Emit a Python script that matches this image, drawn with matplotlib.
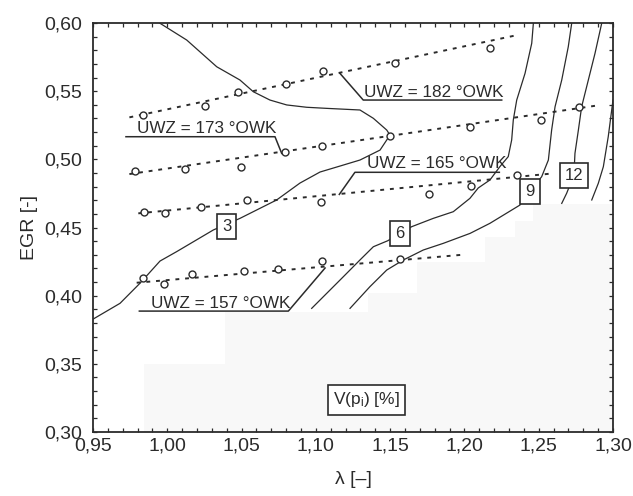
import numpy as np
import matplotlib
matplotlib.use("Agg")
import matplotlib.pyplot as plt
from matplotlib.ticker import MultipleLocator, FuncFormatter

plt.rcParams['font.family'] = ['Liberation Sans', 'DejaVu Sans']
plt.rcParams['mathtext.default'] = 'regular'

# measured points (lambda, EGR) per ignition timing
uwz157_lam = [0.9835, 0.9978, 1.0164, 1.0516, 1.0743, 1.1040, 1.1566]
uwz157_egr = [0.4132, 0.4086, 0.4157, 0.4183, 0.4193, 0.4254, 0.4269]
uwz165_lam = [0.9843, 0.9985, 1.0225, 1.0539, 1.1032, 1.1762, 1.2044, 1.2356]
uwz165_egr = [0.4611, 0.4606, 0.4653, 0.4699, 0.4685, 0.4746, 0.4807, 0.4885]
uwz173_lam = [0.9783, 1.0119, 1.0496, 1.0792, 1.1039, 1.1499, 1.2038, 1.2513, 1.2773]
uwz173_egr = [0.4914, 0.4929, 0.4946, 0.5052, 0.5098, 0.5173, 0.5237, 0.5291, 0.5382]
uwz182_lam = [0.9835, 1.0254, 1.0478, 1.0797, 1.1050, 1.1533, 1.2174]
uwz182_egr = [0.5323, 0.5391, 0.5494, 0.5550, 0.5650, 0.5704, 0.5814]

# fitted lines (start / end)
fit157_lam = [0.9794, 1.1985]
fit157_egr = [0.4095, 0.4300]
fit165_lam = [0.9805, 1.2598]
fit165_egr = [0.4604, 0.4897]
fit173_lam = [0.9745, 1.2912]
fit173_egr = [0.4892, 0.5398]
fit182_lam = [0.9745, 1.2358]
fit182_egr = [0.5308, 0.5912]

# iso-lines of V(pi) [%]
iso3_lam = [0.9502, 0.9682, 0.9816, 0.9951, 1.0063, 1.0310, 1.0489, 1.0736, 1.0893,
            1.1028, 1.1163, 1.1297, 1.1432, 1.1499, 1.1477, 1.1387, 1.1297, 1.1073,
            1.0938, 1.0804, 1.0691, 1.0579, 1.0489, 1.0333, 1.0131, 0.9951]
iso3_egr = [0.3829, 0.3944, 0.4091, 0.4254, 0.4323, 0.4482, 0.4567, 0.4702, 0.4826,
            0.4907, 0.4951, 0.4995, 0.5068, 0.5178, 0.5215, 0.5301, 0.5362, 0.5374,
            0.5382, 0.5399, 0.5435, 0.5496, 0.5582, 0.5679, 0.5875, 0.5998]
iso6_lam = [1.2464, 1.2453, 1.2408, 1.2352, 1.2329, 1.2318, 1.2295, 1.2239, 1.2172,
            1.2093, 1.2037, 1.1925, 1.1790, 1.1645, 1.1566, 1.1484, 1.1387, 1.1297,
            1.1185, 1.1073, 1.0972]
iso6_egr = [0.5998, 0.5851, 0.5631, 0.5435, 0.5289, 0.5142, 0.5020, 0.4947, 0.4849,
            0.4790, 0.4714, 0.4616, 0.4567, 0.4506, 0.4457, 0.4403, 0.4359, 0.4262,
            0.4139, 0.4017, 0.3907]
iso9_lam = [1.2722, 1.2699, 1.2655, 1.2610, 1.2587, 1.2565, 1.2520, 1.2441, 1.2374,
            1.2172, 1.2038, 1.1858, 1.1723, 1.1589, 1.1477, 1.1364, 1.1230]
iso9_egr = [0.5998, 0.5826, 0.5582, 0.5386, 0.5215, 0.4995, 0.4873, 0.4763, 0.4665,
            0.4531, 0.4457, 0.4384, 0.4335, 0.4262, 0.4188, 0.4066, 0.3907]
iso12_lam = [1.2924, 1.2879, 1.2834, 1.2789, 1.2767, 1.2744, 1.2737, 1.2688, 1.2655]
iso12_egr = [0.5998, 0.5778, 0.5582, 0.5386, 0.5215, 0.5044, 0.4885, 0.4751, 0.4677]
iso15_lam = [1.3000, 1.2968, 1.2935, 1.2901, 1.2857]
iso15_egr = [0.5435, 0.5166, 0.4946, 0.4824, 0.4702]

# light grey area without data (step outline)
area_lam = [0.9845, 0.9845, 1.039, 1.039, 1.135, 1.135, 1.168, 1.168, 1.214, 1.214,
            1.234, 1.234, 1.246, 1.246, 1.30, 1.30]
area_egr = [0.30, 0.350, 0.350, 0.388, 0.388, 0.402, 0.402, 0.425, 0.425, 0.443,
            0.443, 0.455, 0.455, 0.467, 0.467, 0.30]

ink = '#2b2b2b'

fig = plt.figure(figsize=(6.33, 4.96), dpi=100)
ax = fig.add_axes([0.1469, 0.129, 0.8215, 0.8246])
ax.set_xlim(0.95, 1.30)
ax.set_ylim(0.30, 0.60)

ax.fill(area_lam, area_egr, color='#f8f8f8', lw=0, zorder=0)

for lx, ly in [(iso3_lam, iso3_egr), (iso6_lam, iso6_egr), (iso9_lam, iso9_egr),
               (iso12_lam, iso12_egr), (iso15_lam, iso15_egr)]:
    ax.plot(lx, ly, color=ink, lw=0.9, zorder=2)

for fx, fy in [(fit157_lam, fit157_egr), (fit165_lam, fit165_egr),
               (fit173_lam, fit173_egr), (fit182_lam, fit182_egr)]:
    ax.plot(fx, fy, color=ink, lw=1.4, ls=(0, (2.0, 3.0)), zorder=3)

for px, py in [(uwz157_lam, uwz157_egr), (uwz165_lam, uwz165_egr),
               (uwz173_lam, uwz173_egr), (uwz182_lam, uwz182_egr)]:
    ax.plot(px, py, 'o', ms=5, mfc='white', mec=ink, mew=1.0, zorder=4)

# labels with underline + leader
labels = [
    ('UWZ = 182 °OWK', 1.1324, 0.5459, [1.1162, 1.1319, 1.2251], [0.5631, 0.5435, 0.5435]),
    ('UWZ = 173 °OWK', 0.9794, 0.5191, [0.9722, 1.0725, 1.077], [0.5166, 0.5166, 0.5044]),
    ('UWZ = 165 °OWK', 1.1342, 0.4934, [1.1158, 1.1263, 1.2235], [0.4743, 0.4905, 0.4905]),
    ('UWZ = 157 °OWK', 0.9888, 0.3907, [0.9812, 1.0815, 1.1062], [0.3887, 0.3887, 0.4203]),
]
for txt, tx, ty, lx, ly in labels:
    ax.text(tx, ty, txt, fontsize=12.3, color=ink, va='baseline', ha='left', zorder=5)
    ax.plot(lx, ly, color=ink, lw=1.1, zorder=5)

box = dict(boxstyle='square,pad=0.3', fc='white', ec=ink, lw=1.2)
for txt, bx, by in [('3', 1.04, 0.4511), ('6', 1.1566, 0.4457), ('9', 1.2441, 0.4763),
                    ('12', 1.2737, 0.4885)]:
    ax.text(bx, by, txt, fontsize=12, color=ink, ha='center', va='center',
            bbox=box, zorder=6)
ax.text(1.1342, 0.3235, 'V(p$_{i}$) [%]', fontsize=12.5, color=ink, ha='center', va='center',
        bbox=dict(boxstyle='square,pad=0.3', fc='white', ec=ink, lw=1.2), zorder=6)

ax.xaxis.set_major_locator(MultipleLocator(0.05))
ax.xaxis.set_minor_locator(MultipleLocator(0.01))
ax.yaxis.set_major_locator(MultipleLocator(0.05))
ax.yaxis.set_minor_locator(MultipleLocator(0.01))
comma = FuncFormatter(lambda v, p: f'{v:.2f}'.replace('.', ','))
ax.xaxis.set_major_formatter(comma)
ax.yaxis.set_major_formatter(comma)
ax.tick_params(which='both', direction='in', top=True, right=True, length=3,
               width=0.9, color=ink, labelsize=14, labelcolor=ink)
ax.tick_params(axis='x', pad=4)
ax.tick_params(axis='y', pad=8)
for s in ax.spines.values():
    s.set_color(ink)
    s.set_linewidth(1.3)

ax.set_xlabel('λ [–]', fontsize=14, color=ink, labelpad=12)
ax.set_ylabel('EGR [-]', fontsize=14, color=ink, labelpad=4)

fig.savefig('out.png', dpi=100)
